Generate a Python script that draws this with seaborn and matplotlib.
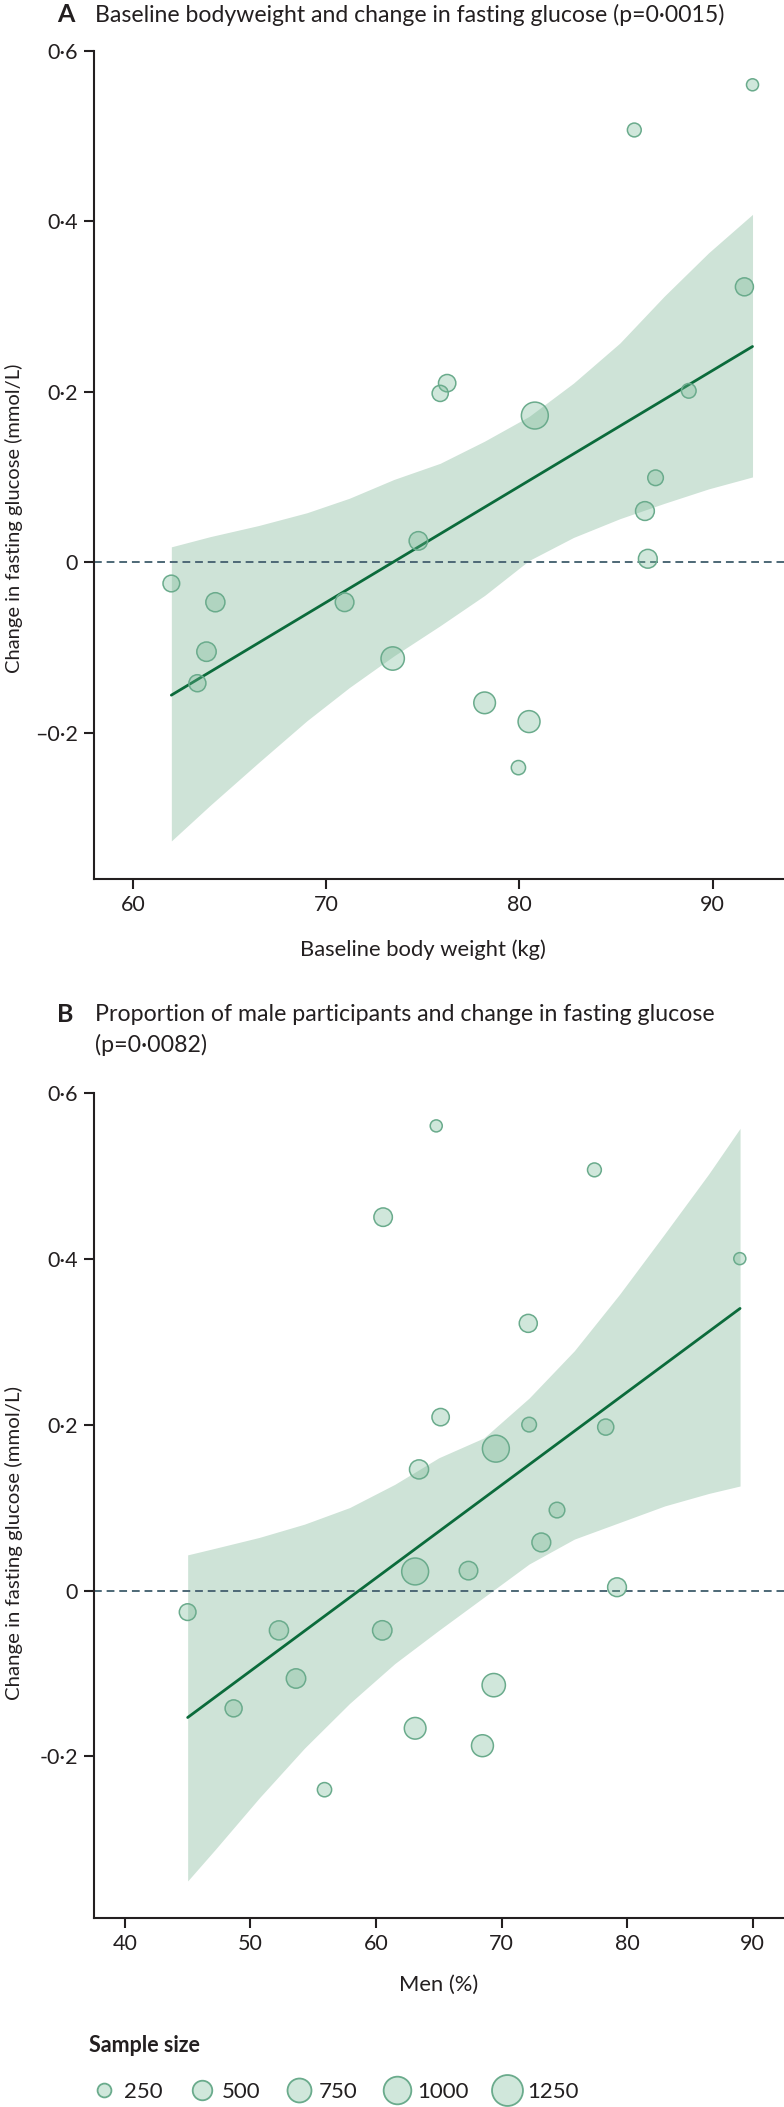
import numpy as np
import pandas as pd
import matplotlib
matplotlib.use("Agg")
import matplotlib.pyplot as plt
import seaborn as sns
from matplotlib.lines import Line2D

# panel A: baseline body weight (kg) vs change in fasting glucose (mmol/L)
a_weight = [92.07, 85.95, 91.65, 76.26, 75.9, 80.8, 88.77, 87.05, 86.5, 86.65,
            74.77, 61.98, 64.26, 70.95, 63.8, 63.33, 73.44, 78.2, 80.5, 79.95]
a_change = [0.560, 0.507, 0.323, 0.210, 0.198, 0.172, 0.201, 0.099, 0.060, 0.004,
            0.025, -0.025, -0.047, -0.047, -0.105, -0.142, -0.113, -0.165, -0.187, -0.241]
a_n = [250, 330, 560, 520, 450, 1250, 370, 420, 610, 610,
       590, 480, 630, 600, 650, 500, 940, 810, 830, 350]

# regression line and 95% band
a_fit_x = [61.98, 92.07]
a_fit_y = [-0.156, 0.253]
a_band_x = [61.98, 64, 66.5, 69, 71.2, 73.5, 75.9, 78.2, 80.5, 82.8, 85.2, 87.5, 89.8, 92.07]
a_band_hi = [0.018, 0.030, 0.043, 0.058, 0.075, 0.097, 0.116, 0.142, 0.171, 0.210, 0.257, 0.312, 0.363, 0.408]
a_band_lo = [-0.327, -0.285, -0.235, -0.186, -0.147, -0.110, -0.0745, -0.039, 0.002, 0.029, 0.051, 0.069, 0.086, 0.100]

# panel B: proportion of men (%) vs change in fasting glucose
b_men = [64.8, 77.4, 60.57, 88.98, 72.13, 65.15, 72.2, 78.3, 69.55, 63.43, 74.42, 73.17,
         63.12, 67.37, 79.2, 45.0, 52.27, 60.5, 53.63, 48.66, 69.38, 63.12, 68.48, 55.9]
b_change = [0.560, 0.507, 0.450, 0.400, 0.322, 0.209, 0.200, 0.197, 0.171, 0.146, 0.097, 0.058,
            0.023, 0.024, 0.004, -0.026, -0.048, -0.048, -0.106, -0.142, -0.114, -0.166, -0.187, -0.240]
b_n = [250, 330, 590, 250, 560, 520, 370, 450, 1250, 630, 420, 610,
       1400, 590, 610, 480, 630, 650, 650, 500, 940, 810, 830, 350]

b_fit_x = [45.0, 89.0]
b_fit_y = [-0.153, 0.340]
b_band_x = [45.0, 47.2, 50.7, 54.3, 57.9, 61.5, 65.0, 68.6, 72.2, 75.8, 79.4, 83.0, 86.5, 89.0]
b_band_hi = [0.043, 0.051, 0.064, 0.080, 0.100, 0.128, 0.160, 0.184, 0.232, 0.289, 0.357, 0.430, 0.502, 0.557]
b_band_lo = [-0.350, -0.312, -0.250, -0.190, -0.136, -0.088, -0.048, -0.008, 0.032, 0.062, 0.082, 0.102, 0.117, 0.126]

legend_sizes = [250, 500, 750, 1000, 1250]
y_ticks = [-0.2, 0, 0.2, 0.4, 0.6]

sns.set_style("ticks")
plt.rcParams['font.family'] = ['Lato', 'DejaVu Sans']

W, H = 784, 2107
band_col = '#cee3d7'
line_col = '#0b6b3b'
edge_col = '#6aab8c'
face_col = (0.45, 0.72, 0.58, 0.33)
dash_col = '#4d6876'
spine_col = '#231f20'
txt_col = '#231f20'
k = 0.30  # marker area per participant
fs = 15.5

fig = plt.figure(figsize=(W / 100, H / 100), dpi=100)


def px_axes(left, top, right, bottom):
    return fig.add_axes([left / W, 1 - bottom / H, (right - left) / W, (bottom - top) / H])


def draw_panel(ax, x, y, n, fit_x, fit_y, bx, blo, bhi, xlim, ylim, xticks, ylabels):
    ax.fill_between(bx, blo, bhi, color=band_col, lw=0, zorder=1)
    ax.axhline(0, color=dash_col, lw=1.4, ls=(0, (4, 2.5)), zorder=2)
    sns.lineplot(x=fit_x, y=fit_y, ax=ax, color=line_col, lw=2.0, zorder=3)
    df = pd.DataFrame({'x': x, 'y': y, 'n': n})
    sns.scatterplot(data=df, x='x', y='y', size='n', sizes=(0, k * 1250), size_norm=(0, 1250),
                    color=face_col, edgecolor=edge_col, linewidth=1.1, legend=False, ax=ax, zorder=4)
    ax.set_xlim(*xlim)
    ax.set_ylim(*ylim)
    ax.set_xticks(xticks)
    ax.set_xticklabels([str(t) for t in xticks])
    ax.set_yticks(y_ticks)
    ax.set_yticklabels(ylabels)
    sns.despine(ax=ax)
    for s in ['left', 'bottom']:
        ax.spines[s].set_linewidth(1.5)
        ax.spines[s].set_color(spine_col)
    ax.tick_params(length=7, width=1.5, color=spine_col, labelsize=fs, pad=4, labelcolor=txt_col)


def fit_text(t, target_px):
    # shrink/grow a text so that its length matches the reference
    fig.canvas.draw()
    bb = t.get_window_extent()
    t.set_fontsize(t.get_fontsize() * target_px / max(bb.width, bb.height))


# panel A
axA = px_axes(93.5, 50.7, 784, 879.3)
draw_panel(axA, a_weight, a_change, a_n, a_fit_x, a_fit_y, a_band_x, a_band_lo, a_band_hi,
           (57.95, 93.7), (-0.372, 0.6), [60, 70, 80, 90],
           ['\u20130\u00b72', '0', '0\u00b72', '0\u00b74', '0\u00b76'])
axA.set_xlabel('Baseline body weight (kg)', fontsize=fs, color=txt_col)
axA.set_ylabel('Change in fasting glucose (mmol/L)', fontsize=fs, color=txt_col)
axA.xaxis.set_label_coords((422.5 - 93.5) / 690.5, -0.072)
axA.yaxis.set_label_coords(-0.102, 0.436)

# panel B
axB = px_axes(93.5, 1092.7, 784, 1918.3)
draw_panel(axB, b_men, b_change, b_n, b_fit_x, b_fit_y, b_band_x, b_band_lo, b_band_hi,
           (37.5, 92.5), (-0.395, 0.6), [40, 50, 60, 70, 80, 90],
           ['-0\u00b72', '0', '0\u00b72', '0\u00b74', '0\u00b76'])
axB.set_xlabel('Men (%)', fontsize=fs, color=txt_col)
axB.set_ylabel('Change in fasting glucose (mmol/L)', fontsize=fs, color=txt_col)
axB.xaxis.set_label_coords(0.5, -0.068)
axB.yaxis.set_label_coords(-0.102, 0.4546)

fit_text(axA.xaxis.label, 247)
fit_text(axA.yaxis.label, 309)
fit_text(axB.yaxis.label, 314)
axB.xaxis.label.set_fontsize(axA.xaxis.label.get_fontsize())

# panel titles
fig.text(57 / W, 1 - 15 / H, 'A', fontsize=18, fontweight='bold', va='center', ha='left', color=txt_col)
tA = fig.text(95 / W, 1 - 15 / H, 'Baseline bodyweight and change in fasting glucose (p=0\u00b70015)',
              fontsize=16, va='center', ha='left', color=txt_col)
fit_text(tA, 630)
fig.text(57 / W, 1 - 1015 / H, 'B', fontsize=18, fontweight='bold', va='center', ha='left', color=txt_col)
tB1 = fig.text(95 / W, 1 - 1015 / H, 'Proportion of male participants and change in fasting glucose',
               fontsize=16, va='center', ha='left', color=txt_col)
fit_text(tB1, 622)
fig.text(95 / W, 1 - 1045 / H, '(p=0\u00b70082)', fontsize=tB1.get_fontsize(),
         va='center', ha='left', color=txt_col)

# sample size legend
fig.text(89 / W, 1 - 2045 / H, 'Sample size', fontsize=fs, fontweight='bold', va='center', ha='left',
         color=txt_col)
handles = [Line2D([], [], ls='none', marker='o', markersize=np.sqrt(k * s) * 1.15,
                  markerfacecolor=face_col, markeredgecolor=edge_col, markeredgewidth=1.3)
           for s in legend_sizes]
leg = fig.legend(handles, [str(s) for s in legend_sizes], ncol=5,
                 loc='center left', bbox_to_anchor=(92 / W, 1 - 2092 / H), frameon=False,
                 fontsize=fs + 0.5, handlelength=1.1, handletextpad=0.35, columnspacing=1.2,
                 borderaxespad=0, borderpad=0)
for t in leg.get_texts():
    t.set_color(txt_col)

fig.savefig('out.png', dpi=100)
